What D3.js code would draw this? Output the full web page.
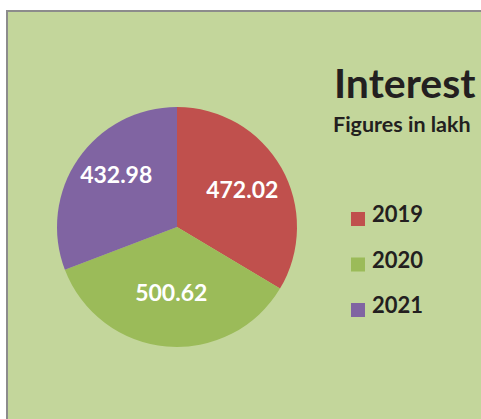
<!DOCTYPE html>
<html lang="en">
  <head>
    <meta charset="utf-8">
    <title>Interest</title>
    <script src="https://cdn.jsdelivr.net/npm/d3@7"></script>
    <style>
      body { margin: 0; background: #fff; }
      svg { display: block; }
    </style>
  </head>
  <body>
    <script>
      // data
      var years = ["2019", "2020", "2021"];
      var interest = [472.02, 500.62, 432.98];
      var colours = ["#c0504d", "#9bbb59", "#8064a2"];

      var w = 481, h = 419;
      var font = "Lato, 'Open Sans', sans-serif";

      var svg = d3.select("body").append("svg")
        .attr("width", w)
        .attr("height", h);

      // chart area + border
      svg.append("rect")
        .attr("x", 7).attr("y", 11)
        .attr("width", w).attr("height", h)
        .attr("fill", "#c3d69b")
        .attr("stroke", "#8c8c8c")
        .attr("stroke-width", 2);

      var cx = 177, cy = 227, r = 120;

      var pie = d3.pie().sort(null).value(function(d) { return d; });
      var arcs = pie(interest);
      var arc = d3.arc().innerRadius(0).outerRadius(r);

      var g = svg.append("g").attr("transform", "translate(" + cx + "," + cy + ")");

      g.selectAll("path")
        .data(arcs)
        .enter()
        .append("path")
        .attr("d", arc)
        .attr("fill", function(d, i) { return colours[i]; });

      // excel "best fit" labels: radius and small angle nudge per slice
      var labelR = [75, 66, 80];
      var labelNudge = [0, 0, 6];   // degrees
      g.selectAll("text")
        .data(arcs)
        .enter()
        .append("text")
        .attr("transform", function(d, i) {
          var a = (d.startAngle + d.endAngle) / 2 + labelNudge[i] * Math.PI / 180;
          return "translate(" + (labelR[i] * Math.sin(a)) + "," + (-labelR[i] * Math.cos(a)) + ")";
        })
        .attr("text-anchor", "middle")
        .attr("dy", "0.36em")
        .attr("font-family", font)
        .attr("font-weight", "bold")
        .attr("font-size", "23px")
        .attr("fill", "#fff")
        .text(function(d) { return d.data.toFixed(2); });

      // title
      svg.append("text")
        .attr("x", 334).attr("y", 98)
        .attr("font-family", font)
        .attr("font-weight", "bold")
        .attr("font-size", "41px")
        .attr("fill", "#231f20")
        .text("Interest");

      svg.append("text")
        .attr("x", 333).attr("y", 132)
        .attr("font-family", font)
        .attr("font-weight", "bold")
        .attr("font-size", "21.5px")
        .attr("fill", "#231f20")
        .text("Figures in lakh");

      // legend
      var legend = svg.selectAll("g.legend")
        .data(years)
        .enter()
        .append("g")
        .attr("class", "legend")
        .attr("transform", function(d, i) { return "translate(351," + (212 + i * 45.5) + ")"; });

      legend.append("rect")
        .attr("width", 14).attr("height", 14)
        .attr("fill", function(d, i) { return colours[i]; });

      legend.append("text")
        .attr("x", 21).attr("y", 10)
        .attr("font-family", font)
        .attr("font-weight", "bold")
        .attr("font-size", "22px")
        .attr("fill", "#231f20")
        .text(function(d) { return d; });
    </script>
  </body>
</html>
